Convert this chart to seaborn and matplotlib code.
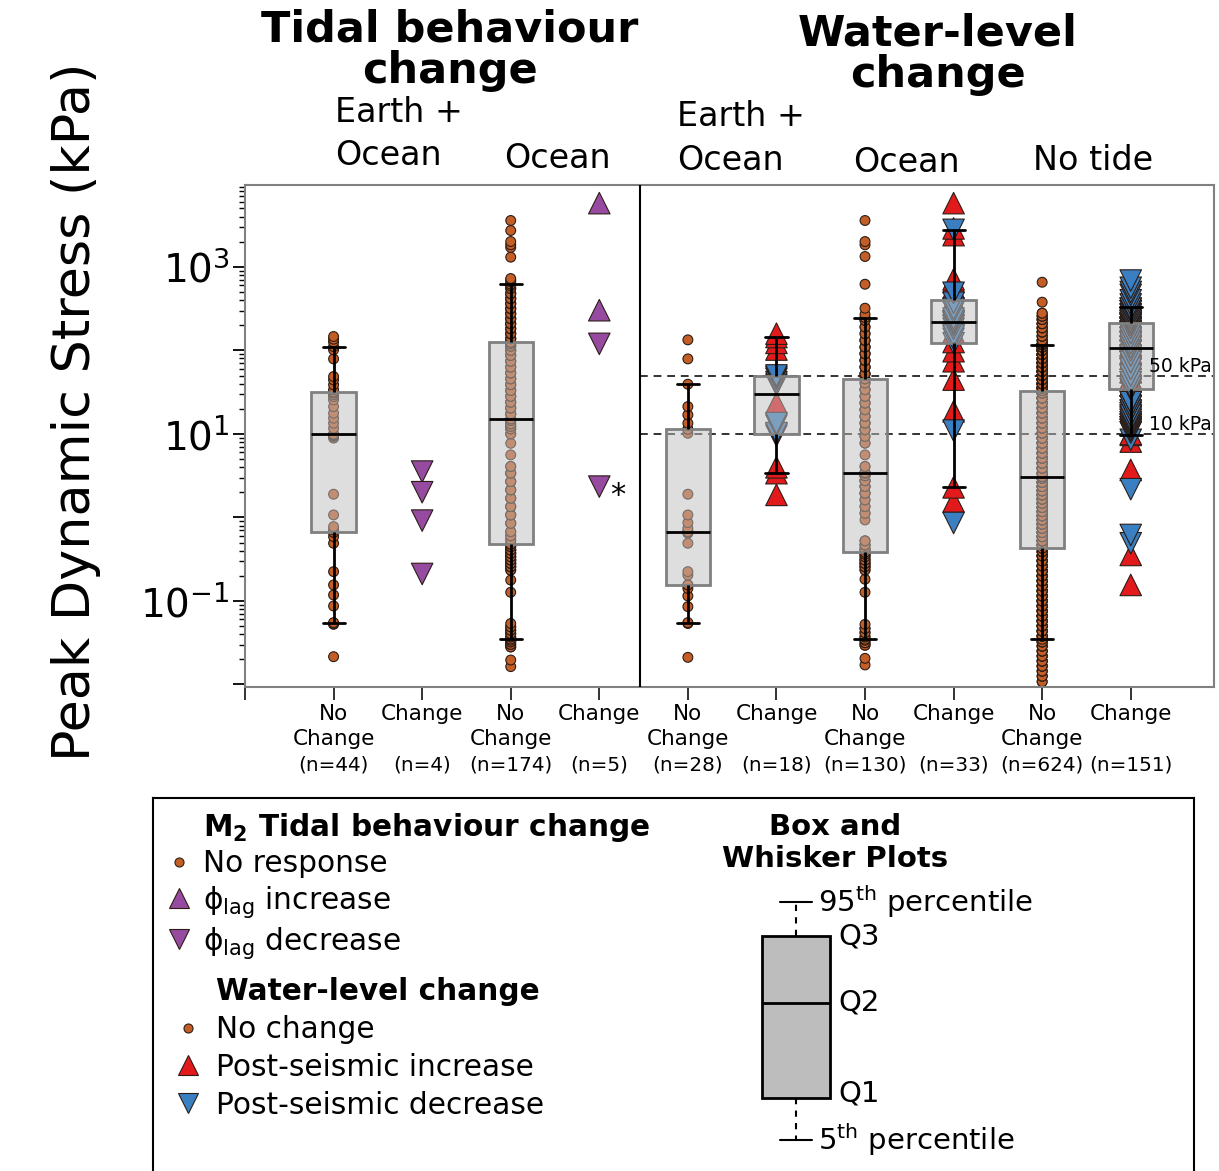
import numpy as np
import pandas as pd
import matplotlib
matplotlib.use("Agg")
import matplotlib.pyplot as plt
import matplotlib.ticker as mticker
from matplotlib.lines import Line2D
from matplotlib.transforms import blended_transform_factory
import seaborn as sns

sns.set_style("ticks")
plt.rcParams["font.family"] = ["DejaVu Sans"]
plt.rcParams["text.color"] = "black"
plt.rcParams["axes.labelcolor"] = "black"
plt.rcParams["xtick.color"] = "black"
plt.rcParams["ytick.color"] = "black"

# x categories (positions 1..10)
tick_labels = ["No\nChange", "Change", "No\nChange", "Change", "No\nChange",
               "Change", "No\nChange", "Change", "No\nChange", "Change"]
n_labels = ["(n=44)", "(n=4)", "(n=174)", "(n=5)", "(n=28)",
            "(n=18)", "(n=130)", "(n=33)", "(n=624)", "(n=151)"]

# all values below are log10(peak dynamic stress in kPa)
# 1: tidal, earth+ocean, no change
tb_eo_none = [-1.667, -1.28, -1.27, -1.259, -1.060, -0.928, -0.808, -0.649, -0.309, -0.230,
              -0.178, -0.178, -0.150, -0.110, 0.030, 0.278, 0.95, 0.97, 0.98, 0.99,
              0.99, 0.996, 0.996, 1.068, 1.128, 1.188, 1.248, 1.327, 1.407, 1.447,
              1.47, 1.49, 1.503, 1.503, 1.527, 1.587, 1.647, 1.687, 1.898, 2.006,
              2.046, 2.10, 2.134, 2.166]
# 2: tidal, earth+ocean, change (phase lag decrease)
tb_eo_down = [0.549, 0.302, -0.038, -0.677]
# 3: tidal, ocean, no change (levels + how many dots sit there)
tb_oc_none_lvl = [-1.786, -1.707, -1.55, -1.52, -1.49, -1.47,
                  -1.455,
                  -1.43, -1.39, -1.35, -1.31, -1.27, -0.896, -0.75,
                  -0.63, -0.59, -0.55, -0.51, -0.47, -0.43, -0.39, -0.35,
                  -0.321,
                  -0.27, -0.22, -0.17, -0.07, 0.03, 0.13, 0.23, 0.33, 0.43, 0.53,
                  0.61, 0.749, 0.888, 1.0, 1.06, 1.09, 1.12, 1.16,
                  1.18,
                  1.24, 1.31, 1.38, 1.45, 1.52, 1.59, 1.66, 1.73, 1.80, 1.87, 1.94, 2.00, 2.05, 2.08,
                  2.098,
                  2.14, 2.20, 2.26, 2.32, 2.38, 2.44, 2.50, 2.56, 2.62, 2.68, 2.74, 2.77,
                  2.792,
                  2.82, 2.84, 2.86, 3.116, 3.232, 3.264, 3.303, 3.435, 3.555]
tb_oc_none_cnt = [1, 1, 2, 2, 2, 1,
                  1,
                  2, 2, 2, 2, 1, 1, 1,
                  2, 3, 3, 3, 3, 3, 3, 2,
                  2,
                  2, 2, 2, 3, 3, 3, 3, 3, 3, 3,
                  2, 1, 1, 2, 2, 2, 2, 2,
                  2,
                  3, 3, 3, 3, 3, 3, 3, 3, 3, 3, 3, 3, 3, 2,
                  2,
                  3, 3, 3, 3, 3, 3, 3, 3, 3, 3, 2, 1,
                  1,
                  1, 1, 1, 1, 1, 1, 1, 1, 1]
# 4: tidal, ocean, change
tb_oc_up = [3.763, 2.481]
tb_oc_down = [2.078, 0.369]
# 5: water level, earth+ocean, no change
wl_eo_none = [-1.675, -1.27, -1.259, -1.068, -0.94, -0.85, -0.808, -0.808, -0.69, -0.649,
              -0.309, -0.19, -0.175, -0.170, -0.170, -0.13, -0.062, 0.030, 0.278, 1.008,
              1.056, 1.056, 1.128, 1.228, 1.327, 1.595, 1.898, 2.126]
# 6: water level, earth+ocean, change
wl_eo_up = [0.27, 0.53, 0.60, 1.37, 2.01, 2.09, 2.16, 2.20]
wl_eo_down = [0.98, 1.00, 1.01, 1.10, 1.13, 1.59, 1.62, 1.66, 1.68, 1.70]
# 7: water level, ocean, no change
wl_oc_none_lvl = [-1.766, -1.687, -1.53, -1.50, -1.47,
                  -1.459,
                  -1.43, -1.38, -1.33, -1.28, -0.896, -0.74,
                  -0.63, -0.59, -0.55, -0.51, -0.47, -0.44,
                  -0.417,
                  -0.38, -0.33, -0.28, -0.03, 0.05, 0.13, 0.21, 0.29, 0.37, 0.44, 0.50, 0.53,
                  0.537,
                  0.61, 0.749, 0.89, 0.97, 1.05, 1.13, 1.21, 1.29, 1.37, 1.45, 1.53, 1.61,
                  1.659,
                  1.72, 1.80, 1.88, 1.96, 2.04, 2.12, 2.20, 2.28, 2.36,
                  2.393,
                  2.43, 2.505, 2.792, 3.124, 3.264, 3.303, 3.555]
wl_oc_none_cnt = [1, 1, 2, 2, 1,
                  1,
                  2, 2, 2, 1, 1, 1,
                  2, 3, 3, 3, 2, 2,
                  2,
                  3, 3, 2, 1, 2, 2, 2, 3, 3, 3, 3, 3,
                  2,
                  2, 1, 2, 2, 3, 3, 3, 3, 3, 3, 3, 2,
                  2,
                  3, 3, 3, 3, 3, 3, 2, 2, 2,
                  1,
                  1, 1, 1, 1, 1, 1, 1]
# 8: water level, ocean, change
wl_oc_up = [0.19, 0.36, 1.27, 1.65, 1.87, 1.99, 2.10, 2.22, 2.42, 2.54, 2.59, 2.605,
            2.75, 2.82, 2.85, 3.38, 3.46, 3.763]
wl_oc_down = [-0.066, 1.04, 2.086, 2.14, 2.18, 2.26, 2.30, 2.33, 2.345, 2.38, 2.46,
              2.50, 2.57, 2.69, 3.443]
# 9: water level, no tide, no change
wl_nt_none_lvl = [-1.966, -1.90, -1.84, -1.78, -1.72, -1.66, -1.60, -1.54, -1.49,
                  -1.459,
                  -1.42, -1.36, -1.30, -1.24, -1.18, -1.12, -1.06, -1.00, -0.94, -0.88,
                  -0.82, -0.76, -0.70, -0.64, -0.58, -0.52, -0.46, -0.41,
                  -0.369,
                  -0.33, -0.28, -0.23, -0.18, -0.13, -0.08, -0.03, 0.02, 0.07, 0.12,
                  0.17, 0.22, 0.27, 0.32, 0.37, 0.42, 0.47,
                  0.489,
                  0.53, 0.59, 0.65, 0.71, 0.77, 0.83, 0.89, 0.95, 1.01, 1.07,
                  1.13, 1.19, 1.25, 1.31, 1.37, 1.43, 1.49,
                  1.519,
                  1.55, 1.60, 1.65, 1.70, 1.75, 1.80, 1.85, 1.90, 1.95, 2.00, 2.04, 2.07,
                  2.086,
                  2.12, 2.17, 2.22, 2.27, 2.32, 2.37, 2.41, 2.445, 2.577, 2.816]
wl_nt_none_cnt = [2, 3, 3, 4, 4, 4, 4, 4, 4,
                  1,
                  6, 6, 7, 7, 7, 7, 7, 7, 7, 7,
                  7, 7, 7, 7, 7, 7, 7, 5,
                  2,
                  8, 9, 9, 10, 10, 9, 9, 9, 9, 9,
                  9, 9, 9, 9, 9, 9, 9,
                  2,
                  9, 9, 9, 9, 9, 9, 9, 9, 9, 9,
                  9, 9, 9, 9, 10, 10, 8,
                  2,
                  11, 11, 11, 10, 10, 10, 10, 10, 10, 10, 10, 10,
                  1,
                  4, 4, 4, 4, 4, 4, 3, 2, 1, 1]
# 10: water level, no tide, change
wl_nt_up_lvl = [-0.808, -0.449, 0.569, 0.908, 0.988, 1.00, 1.45, 1.50, 1.58, 1.66,
                1.74, 1.82, 1.90, 1.97, 2.026, 2.06, 2.12, 2.18, 2.24, 2.30,
                2.36, 2.40, 2.44, 2.48, 2.51, 2.525, 2.58, 2.62]
wl_nt_up_cnt = [1, 1, 1, 1, 1, 1, 2, 2, 3, 3,
                3, 3, 3, 2, 1, 3, 3, 3, 3, 3,
                3, 3, 3, 3, 2, 1, 1, 1]
wl_nt_down_lvl = [-0.309, -0.21, 0.338, 0.93, 1.02, 1.05, 1.08, 1.11, 1.14, 1.17,
                  1.22, 1.28, 1.33, 1.38, 1.535, 1.56, 1.62, 1.70, 1.78, 1.86,
                  1.94, 2.00, 2.04, 2.09, 2.15, 2.21, 2.27, 2.31, 2.326, 2.35,
                  2.39, 2.43, 2.47, 2.50, 2.55, 2.60, 2.665, 2.70, 2.75, 2.836]
wl_nt_down_cnt = [1, 1, 1, 1, 2, 3, 3, 3, 2, 2,
                  2, 2, 2, 2, 2, 2, 3, 3, 3, 3,
                  3, 2, 3, 3, 3, 4, 4, 4, 2, 3,
                  3, 3, 3, 2, 1, 1, 1, 1, 1, 1]

box_positions = [1, 3, 5, 6, 7, 8, 9, 10]

kind_colors = {"none": "#c45e27", "tidal_up": "#964ba0", "tidal_down": "#964ba0",
               "wl_up": "#e31a1c", "wl_down": "#3a7fc2"}
kind_markers = {"none": "o", "tidal_up": "^", "tidal_down": "v", "wl_up": "^", "wl_down": "v"}
kind_sizes = {"none": 50, "tidal_up": 240, "tidal_down": 240, "wl_up": 240, "wl_down": 240}
edge_col = "#2b1d16"

rows = []


def add(pos, kind, logvals):
    for v in logvals:
        rows.append((pos, kind, 10 ** float(v)))


add(1, "none", tb_eo_none)
add(2, "tidal_down", tb_eo_down)
add(3, "none", np.repeat(tb_oc_none_lvl, tb_oc_none_cnt))
add(4, "tidal_up", tb_oc_up)
add(4, "tidal_down", tb_oc_down)
add(5, "none", wl_eo_none)
add(6, "wl_up", wl_eo_up)
add(6, "wl_down", wl_eo_down)
add(7, "none", np.repeat(wl_oc_none_lvl, wl_oc_none_cnt))
add(8, "wl_up", wl_oc_up)
add(8, "wl_down", wl_oc_down)
add(9, "none", np.repeat(wl_nt_none_lvl, wl_nt_none_cnt))
add(10, "wl_up", np.repeat(wl_nt_up_lvl, wl_nt_up_cnt))
add(10, "wl_down", np.repeat(wl_nt_down_lvl, wl_nt_down_cnt))

pts = pd.DataFrame(rows, columns=["pos", "kind", "stress"])
boxdata = pts[pts["pos"].isin(box_positions)]

W, H = 1219, 1171
fig = plt.figure(figsize=(W / 100, H / 100), dpi=100)
ax = fig.add_axes([245 / W, 1 - 687 / H, 969 / W, 502 / H])
ax.set_yscale("log")

sns.scatterplot(data=pts, x="pos", y="stress", hue="kind", style="kind", size="kind",
                palette=kind_colors, markers=kind_markers, sizes=kind_sizes,
                edgecolor=edge_col, linewidth=0.8, legend=False, ax=ax, zorder=1)

box_face = (0.75, 0.75, 0.75, 0.5)
box_edge = (0.5, 0.5, 0.5)
sns.boxplot(data=boxdata, x="pos", y="stress", native_scale=True, width=0.5,
            whis=(5, 95), showfliers=False, ax=ax,
            boxprops=dict(facecolor=box_face, edgecolor=box_edge, linewidth=2),
            medianprops=dict(color="black", linewidth=2),
            whiskerprops=dict(color="black", linewidth=2),
            capprops=dict(color="black", linewidth=2))
for p in ax.patches:
    p.set_facecolor(box_face)
    p.set_edgecolor(box_edge)
    p.set_linewidth(2)

ax.set_xlim(0, 10.94)
ax.set_ylim(10 ** -2.03, 10 ** 3.98)
ax.set_xlabel("")
ax.set_ylabel("")

# divider and stress thresholds
ax.axvline(4.46, color="black", lw=1.5, zorder=3)
ax.hlines([50, 10], 4.46, 10.94, colors="#333333", linestyles=(0, (4, 3)), lw=1.4, zorder=0.8)
ax.text(10.92, 50, "50 kPa", ha="right", va="bottom", fontsize=13.5)
ax.text(10.92, 10, "10 kPa", ha="right", va="bottom", fontsize=13.5)
ax.text(4.21, 10 ** 0.26, "*", ha="center", va="center", fontsize=22)

for s in ax.spines.values():
    s.set_color("#808080")
    s.set_linewidth(1.5)

ax.set_xticks(range(0, 11))
ax.set_xticklabels([""] + tick_labels, linespacing=1.35)
ax.tick_params(axis="x", length=9, width=1.3, color="#222222", pad=3, labelsize=15.5)

ax.yaxis.set_major_locator(mticker.LogLocator(base=10, numticks=20))
ax.yaxis.set_major_formatter(mticker.FuncFormatter(
    lambda v, p: f"$10^{{{int(round(np.log10(v)))}}}$" if int(round(np.log10(v))) % 2 else ""))
ax.yaxis.set_minor_locator(mticker.LogLocator(base=10, subs=np.arange(2, 10) * 1.0, numticks=100))
ax.yaxis.set_minor_formatter(mticker.NullFormatter())
ax.tick_params(axis="y", which="major", length=9, width=1.3, labelsize=28, pad=2)
ax.tick_params(axis="y", which="minor", length=4.5, width=1.0)

# sample sizes under the tick labels
tr = blended_transform_factory(ax.transData, fig.transFigure)
for i, lab in enumerate(n_labels):
    ax.text(i + 1, 1 - 765 / H, lab, transform=tr, ha="center", va="center", fontsize=14.4)

# headers
fig.text(450 / W, 1 - 50 / H, "Tidal behaviour\nchange", ha="center", va="center",
         fontsize=31, fontweight="bold", linespacing=1.0)
fig.text(938 / W, 1 - 54 / H, "Water-level\nchange", ha="center", va="center",
         fontsize=31, fontweight="bold", linespacing=1.0)
sub_kw = dict(fontsize=24, va="center")
fig.text(335 / W, 1 - 112 / H, "Earth +", ha="left", **sub_kw)
fig.text(335 / W, 1 - 156 / H, "Ocean", ha="left", **sub_kw)
fig.text(557 / W, 1 - 159 / H, "Ocean", ha="center", **sub_kw)
fig.text(677 / W, 1 - 117 / H, "Earth +", ha="left", **sub_kw)
fig.text(677 / W, 1 - 161 / H, "Ocean", ha="left", **sub_kw)
fig.text(906 / W, 1 - 162 / H, "Ocean", ha="center", **sub_kw)
fig.text(1093 / W, 1 - 160 / H, "No tide", ha="center", **sub_kw)
fig.text(76 / W, 1 - 412 / H, "Peak Dynamic Stress (kPa)", rotation=90,
         ha="center", va="center", fontsize=37.7)

# legend panel
ax_leg = fig.add_axes([153 / W, -0.02, 1041 / W, 1 - 798 / H + 0.02])
ax_leg.set_xticks([])
ax_leg.set_yticks([])
for s in ax_leg.spines.values():
    s.set_color("black")
    s.set_linewidth(1.5)

leg_fs = 21.3
blank = Line2D([], [], ls="none")


def mk(marker, color, ms):
    return Line2D([], [], ls="none", marker=marker, ms=ms, mfc=color, mec=edge_col, mew=0.8)


h1 = [blank, mk("o", kind_colors["none"], 6.5), mk("^", kind_colors["tidal_up"], 14),
      mk("v", kind_colors["tidal_down"], 14)]
l1 = [r"$\mathbf{M_2}$ Tidal behaviour change", "No response",
      r"$\mathrm{\phi_{lag}}$ increase", r"$\mathrm{\phi_{lag}}$ decrease"]
leg1 = ax_leg.legend(h1, l1, loc="upper left", bbox_to_anchor=(164 / W, 1 - 811 / H),
                     bbox_transform=fig.transFigure, frameon=False, fontsize=leg_fs,
                     handlelength=1.0, handletextpad=0.32, labelspacing=0.18,
                     borderpad=0, borderaxespad=0)
leg1.get_texts()[0].set_fontweight("bold")
ax_leg.add_artist(leg1)

h2 = [blank, mk("o", kind_colors["none"], 6.5), mk("^", kind_colors["wl_up"], 14),
      mk("v", kind_colors["wl_down"], 14)]
l2 = ["Water-level change", "No change", "Post-seismic increase", "Post-seismic decrease"]
leg2 = ax_leg.legend(h2, l2, loc="upper left", bbox_to_anchor=(173 / W, 1 - 977 / H),
                     bbox_transform=fig.transFigure, frameon=False, fontsize=leg_fs,
                     handlelength=1.0, handletextpad=0.46, labelspacing=0.3,
                     borderpad=0, borderaxespad=0)
leg2.get_texts()[0].set_fontweight("bold")

# box-and-whisker key
fig.text(835 / W, 1 - 843 / H, "Box and\nWhisker Plots", ha="center", va="center",
         fontsize=21, fontweight="bold", linespacing=1.2)
key_box_stats = [dict(whislo=0.0, q1=0.176, med=0.576, q3=0.857, whishi=1.0, fliers=[])]
ax_key = fig.add_axes([746 / W, 1 - 1163.8 / H, 100 / W, 285.6 / H])
ax_key.bxp(key_box_stats, positions=[0.5], widths=[0.68], capwidths=[0.32],
           patch_artist=True, showfliers=False,
           boxprops=dict(facecolor="#bdbdbd", edgecolor="black", linewidth=2),
           medianprops=dict(color="black", linewidth=2),
           whiskerprops=dict(color="black", linewidth=1.5, linestyle=(0, (3, 3))),
           capprops=dict(color="black", linewidth=1.5))
ax_key.set_xlim(0, 1)
ax_key.set_ylim(-0.1, 1.1)
ax_key.axis("off")
key_fs = 21
ax_key.text(0.72, 1.0, r"95$^{\mathrm{th}}$ percentile", ha="left", va="center", fontsize=key_fs)
ax_key.text(0.92, 0.853, "Q3", ha="left", va="center", fontsize=key_fs)
ax_key.text(0.92, 0.576, "Q2", ha="left", va="center", fontsize=key_fs)
ax_key.text(0.92, 0.197, "Q1", ha="left", va="center", fontsize=key_fs)
ax_key.text(0.72, 0.0, r"5$^{\mathrm{th}}$ percentile", ha="left", va="center", fontsize=key_fs)

fig.savefig("out.png", dpi=100)
